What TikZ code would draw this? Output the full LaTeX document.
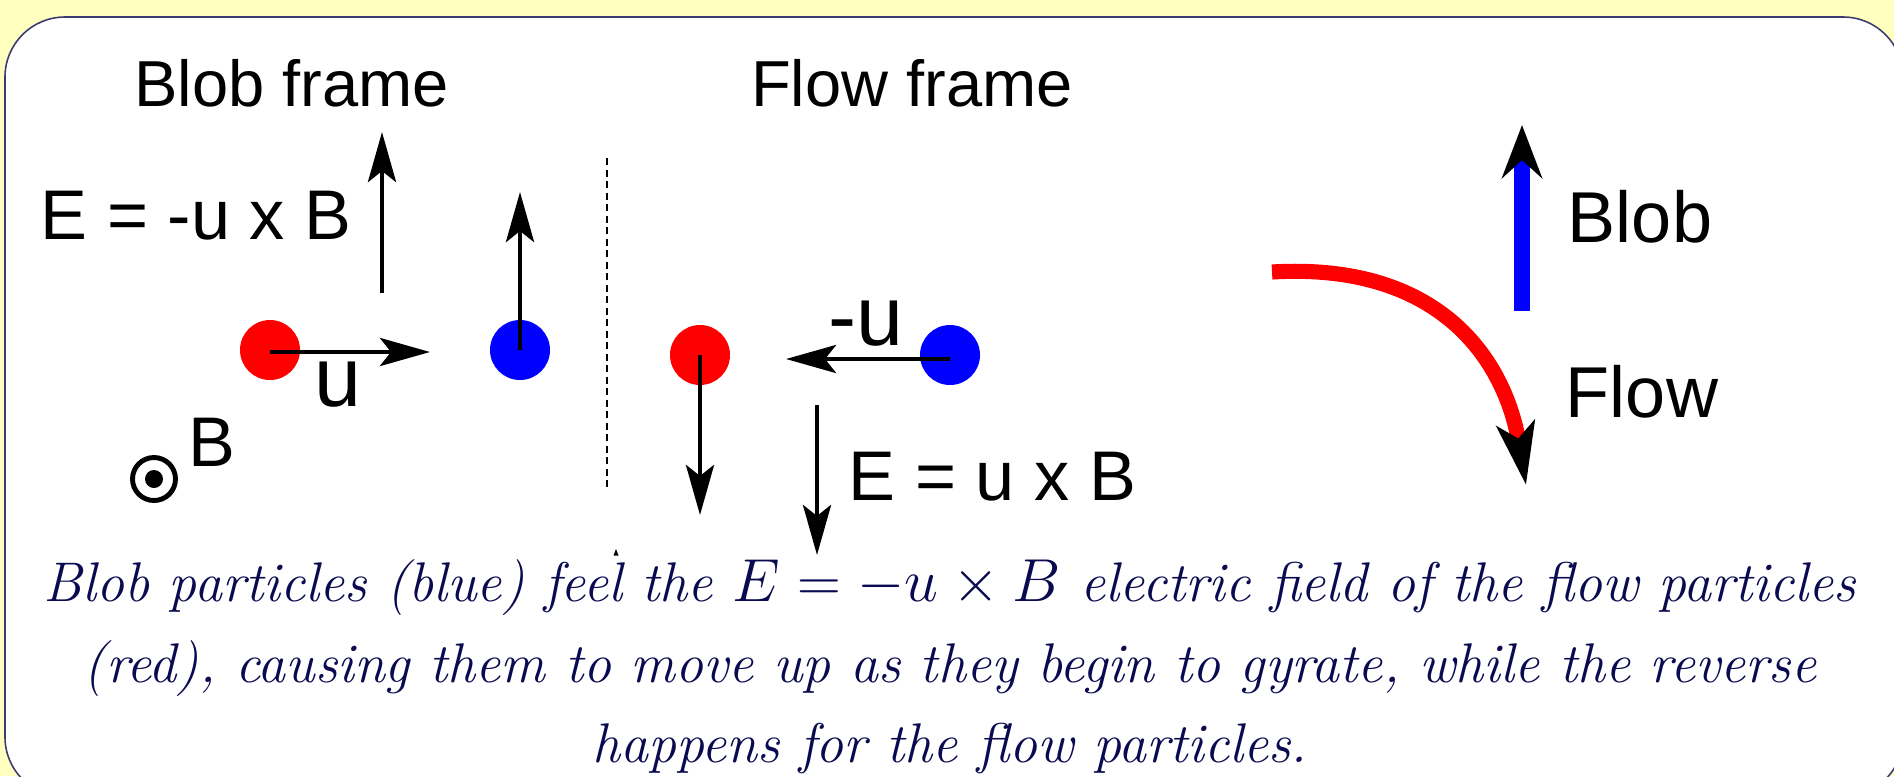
\documentclass[tikz,border=0pt]{standalone}
\usepackage{fontspec}
\newfontfamily\labelfont{Liberation Sans}
\usetikzlibrary{arrows.meta}

\definecolor{slidebg}{RGB}{255,255,192}
\definecolor{panelline}{RGB}{60,60,110}
\definecolor{capnavy}{RGB}{10,10,80}

\begin{document}
\begin{tikzpicture}[
  lbl/.style   = {font=\labelfont\fontsize{20pt}{24pt}\selectfont,
                  inner sep=0pt, anchor=base},
  ttl/.style   = {lbl, font=\labelfont\fontsize{18.5pt}{22pt}\selectfont},
  vlbl/.style  = {lbl, font=\labelfont\fontsize{24pt}{28pt}\selectfont},
  leg/.style   = {lbl, font=\labelfont\fontsize{20.5pt}{24pt}\selectfont},
  dotr/.style  = {circle, fill=red, minimum size=6mm, inner sep=0pt},
  dotb/.style  = {circle, fill=blue, minimum size=6mm, inner sep=0pt},
  odot/.style  = {circle, draw, line width=1.4pt, minimum size=4.3mm,
                  inner sep=0pt},
  varr/.style  = {-{Stealth[length=5mm,width=2.8mm,inset=1.1mm]},
                  line width=1.4pt},
  barr/.style  = {-{Stealth[black,length=5.3mm,width=4mm,inset=1.8mm]},
                  line width=4.5pt, blue},
  rarr/.style  = {-{Stealth[black,length=6.2mm,width=3.8mm,inset=1.5mm]},
                  line width=4.3pt, red},
  caption/.style = {font=\fontsize{15.9pt}{22.9pt}\selectfont\itshape,
                  text=capnavy, align=center, anchor=north, inner sep=0pt},
]

\useasboundingbox (0,0) rectangle (18.94,-7.76);
\fill[slidebg] (0,0) rectangle (18.94,-7.76);
\draw[panelline, line width=0.45pt, fill=white, rounded corners=6mm]
  (0.05,-0.17) rectangle (19.03,-7.97);

% frame titles
\node[ttl] (blobframe) at (2.915,-1.06) {Blob frame};
\node[ttl] (flowframe) at (9.12,-1.06)  {Flow frame};

% blob frame: flow particle moves with u, blob particle feels E
\node[dotr] (red1)  at (2.70,-3.50) {};
\node[dotb] (blue1) at (5.20,-3.50) {};
\coordinate (ubot)  at (3.82,-2.93);
\coordinate (utop)  at (3.82,-1.32);
\coordinate (uend)  at (4.30,-3.52);
\coordinate (b1top) at (5.20,-1.92);
\draw[varr] (ubot) -- (utop);
\draw[varr] (red1.center |- uend) -- (uend);
\draw[varr] (blue1.center) -- (b1top);
\node[lbl]  (eleft) at (1.96,-2.39) {E = -u x B};
\node[vlbl] (ulbl)  at (3.38,-4.06) {u};

% field out of the page
\node[odot] (bdir) at (1.54,-4.79) {};
\fill (bdir.center) circle (0.9mm);
\node[lbl] (blbl) at (2.115,-4.66) {B};

% frame separator
\coordinate (septop) at (6.07,-1.58);
\coordinate (sepbot) at (6.07,-4.89);
\draw[line width=0.6pt, dash pattern=on 0.7mm off 0.45mm] (septop) -- (sepbot);
\fill (6.16,-5.49) -- (6.185,-5.555) -- (6.135,-5.555) -- cycle;

% flow frame: blob particle moves with -u, flow particle feels E
\node[dotr] (red2)  at (7.00,-3.55) {};
\node[dotb] (blue2) at (9.50,-3.55) {};
\coordinate (r2bot)  at (7.00,-5.15);
\coordinate (muend)  at (7.86,-3.59);
\coordinate (etop)   at (8.17,-4.05);
\coordinate (ebot)   at (8.17,-5.55);
\draw[varr] (red2.center) -- (r2bot);
\draw[varr] (blue2.center |- muend) -- (muend);
\draw[varr] (etop) -- (ebot);
\node[vlbl] (mulbl)  at (8.66,-3.45) {-u};
\node[lbl]  (eright) at (9.925,-5.00) {E = u x B};

% legend: paths of the two populations
\coordinate (bstart) at (15.22,-3.11);
\coordinate (bend)   at (15.22,-1.25);
\coordinate (fstart) at (12.72,-2.72);
\coordinate (fend)   at (15.26,-4.85);
\draw[barr] (bstart) -- (bend);
\draw[rarr] (fstart) .. controls (14.4,-2.62) and (15.05,-3.6) .. (fend);
\node[leg] (bloblbl) at (16.40,-2.42) {Blob};
\node[leg] (flowlbl) at (16.42,-4.17) {Flow};

\node[caption] (cap) at (9.50,-5.59)
  {Blob particles (blue) feel the $E = -u \times B$ electric field of the flow particles\\
   (red), causing them to move up as they begin to gyrate, while the reverse\\
   happens for the flow particles.};

\end{tikzpicture}
\end{document}
